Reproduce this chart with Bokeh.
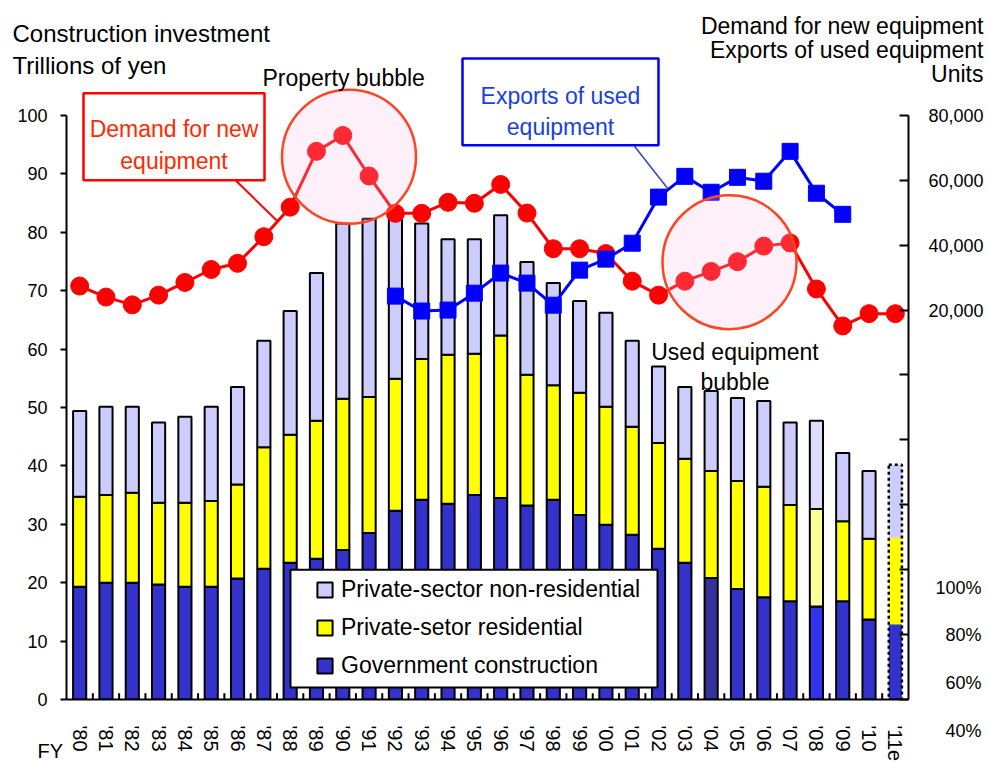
import math
from bokeh.plotting import figure
from bokeh.models import (ColumnDataSource, Range1d, FactorRange, LinearAxis, FixedTicker,
                          NumeralTickFormatter, BoxAnnotation, Legend, LegendItem,
                          CDSView, IndexFilter)
from bokeh.core.properties import value
from bokeh.embed import file_html
from bokeh.resources import INLINE

# ---------------- data ----------------
years = ["'80", "'81", "'82", "'83", "'84", "'85", "'86", "'87", "'88", "'89",
         "'90", "'91", "'92", "'93", "'94", "'95", "'96", "'97", "'98", "'99",
         "'00", "'01", "'02", "'03", "'04", "'05", "'06", "'07", "'08", "'09",
         "'10", "'11e"]
# Construction investment, trillions of yen
gov = [19.3, 20.0, 20.0, 19.7, 19.3, 19.3, 20.7, 22.4, 23.4, 24.1,
       25.6, 28.5, 32.3, 34.2, 33.5, 35.0, 34.5, 33.2, 34.2, 31.6,
       29.9, 28.2, 25.8, 23.4, 20.8, 18.9, 17.5, 16.8, 15.9, 16.8,
       13.7, 12.9]
res = [15.4, 15.0, 15.4, 14.0, 14.4, 14.7, 16.1, 20.8, 21.9, 23.6,
       25.9, 23.3, 22.6, 24.1, 25.5, 24.2, 27.8, 22.4, 19.6, 20.9,
       20.2, 18.5, 18.1, 17.8, 18.3, 18.5, 18.9, 16.5, 16.7, 13.7,
       13.8, 14.8]
nonres = [14.7, 15.1, 14.7, 13.7, 14.7, 16.1, 16.7, 18.2, 21.2, 25.3,
          30.0, 30.5, 28.0, 23.2, 19.8, 19.6, 20.6, 19.3, 17.5, 15.7,
          16.1, 14.7, 13.1, 12.3, 13.7, 14.2, 14.7, 14.1, 15.1, 11.7,
          11.6, 12.5]
# Units
demand = [27400, 24000, 21600, 24600, 28500, 32500, 34400, 42600, 51700, 68900,
          73800, 61300, 49800, 49800, 53200, 52900, 58700, 49900, 38900, 38900,
          37400, 28900, 24600, 28900, 31900, 34900, 39700, 40700, 26500, 15100,
          18900, 18900]
export_years = years[12:30]
exports = [24300, 19700, 20000, 25200, 31400, 28300, 21500, 32300, 35700, 40600,
           54800, 61200, 56300, 60900, 59700, 68900, 56000, 49500]

left_ticks = list(range(0, 101, 10))
right_ticks = list(range(-100000, 80001, 20000))
pct_labels = ["100%", "80%", "60%", "40%"]

# ---------------- styling ----------------
FONT = "Liberation Sans"
C_GOV, C_RES, C_NR = "#3333cc", "#ffff00", "#ccccff"
W, H = 988, 764
ML, MR, MT, MB = 66, 80, 0, 64
FW, FH = W - ML - MR, H - MT - MB
PX_PER_UNIT = 5.85
left_top = FH / PX_PER_UNIT
r_per_unit = (right_ticks[-1] - right_ticks[0]) / 100.0
right_top = right_ticks[0] + left_top * r_per_unit


def dx(px):  # canvas pixel -> x data (synthetic category coordinate)
    return (px - ML) / (FW / len(years))


def dy(py):  # canvas pixel -> left-axis data
    return (FH - (py - MT)) / PX_PER_UNIT


gov_c = [C_GOV] * len(years)
res_c = [C_RES] * len(years)
nr_c = [C_NR] * len(years)
gov_c[years.index("'04")] = "#333399"
gov_c[years.index("'08")] = "#3333ee"
res_c[years.index("'08")] = "#ffff99"
nr_c[years.index("'08")] = "#ddddff"

res_top = [g + r for g, r in zip(gov, res)]
total = [t + n for t, n in zip(res_top, nonres)]
src = ColumnDataSource(dict(year=years, zero=[0] * len(years), gov=gov, res_top=res_top,
                            total=total, gov_c=gov_c, res_c=res_c, nr_c=nr_c))

p = figure(width=W, height=H, x_range=FactorRange(factors=years),
           y_range=Range1d(0, left_top), output_backend="svg", toolbar_location=None,
           min_border_left=ML, min_border_right=MR, min_border_top=MT, min_border_bottom=MB)
p.extra_y_ranges = {"right": Range1d(right_ticks[0], right_top)}
p.xgrid.visible = False
p.ygrid.visible = False
p.outline_line_color = None

# x axis
xa = p.xaxis[0]
xa.axis_line_width = 2
xa.axis_line_color = "black"
xa.major_tick_line_color = None
xa.major_tick_in = 0
xa.major_tick_out = 0
xa.minor_tick_line_color = None
xa.major_label_orientation = -math.pi / 2
xa.major_label_standoff = 26
xa.major_label_text_font = FONT
xa.major_label_text_font_size = "20px"
xa.major_label_text_color = "black"
xa.major_label_overrides = {y: "" for i, y in enumerate(years) if i % 2 == 1 and i != len(years) - 1}

# left axis
ya = p.yaxis[0]
ya.ticker = FixedTicker(ticks=left_ticks)
ya.bounds = (0, 100)
ya.axis_line_width = 2
ya.major_tick_line_width = 2
ya.major_tick_out = 6
ya.major_tick_in = 0
ya.minor_tick_line_color = None
ya.major_label_standoff = 13
ya.major_label_text_font = FONT
ya.major_label_text_font_size = "18px"
ya.major_label_text_color = "black"

# right axis
ra = LinearAxis(y_range_name="right", ticker=FixedTicker(ticks=right_ticks),
                formatter=NumeralTickFormatter(format="0,0"))
ra.bounds = (right_ticks[0], right_ticks[-1])
ra.axis_line_width = 2
ra.major_tick_line_width = 2
ra.major_tick_in = 9
ra.major_tick_out = 0
ra.minor_tick_line_color = None
ra.major_label_standoff = 20
ra.major_label_text_font = FONT
ra.major_label_text_font_size = "18px"
ra.major_label_text_color = "black"
ra.major_label_overrides = {t: "" for t in right_ticks if t <= 0}
p.add_layout(ra, "right")

# bars
solid = CDSView(filter=IndexFilter(list(range(len(years) - 1))))
est = CDSView(filter=IndexFilter([len(years) - 1]))
BW = 0.5
r_gov = p.vbar(x="year", width=BW, bottom="zero", top="gov", fill_color="gov_c",
               line_color="black", line_width=2, source=src, view=solid)
r_res = p.vbar(x="year", width=BW, bottom="gov", top="res_top", fill_color="res_c",
               line_color="black", line_width=2, source=src, view=solid)
r_nr = p.vbar(x="year", width=BW, bottom="res_top", top="total", fill_color="nr_c",
              line_color="black", line_width=2, source=src, view=solid)
p.vbar(x="year", width=BW, bottom="zero", top="gov", fill_color="gov_c", line_color=None,
       source=src, view=est)
p.vbar(x="year", width=BW, bottom="gov", top="res_top", fill_color="res_c", line_color=None,
       source=src, view=est)
p.vbar(x="year", width=BW, bottom="res_top", top="total", fill_color="nr_c", line_color=None,
       source=src, view=est)
p.vbar(x="year", width=BW, bottom="zero", top="total", fill_color=None, line_color="black",
       line_width=2.5, line_dash="3 3", source=src, view=est)

# small category-boundary ticks on the x axis
bounds_x = list(range(1, len(years)))
p.segment(x0=bounds_x, y0=[0] * len(bounds_x), x1=bounds_x, y1=[1.05] * len(bounds_x),
          line_color="black", line_width=2)

# lines
p.line(x=years, y=demand, y_range_name="right", line_color="#ff0000", line_width=3)
p.scatter(x=years, y=demand, y_range_name="right", marker="circle", size=18,
          fill_color="#ff0000", line_color="#ff0000")
p.line(x=export_years, y=exports, y_range_name="right", line_color="#0000ff", line_width=3)
p.scatter(x=export_years, y=exports, y_range_name="right", marker="square", size=16,
          fill_color="#0000ff", line_color="#0000ff")

# bubble circles
p.scatter(x=[dx(348.5), dx(729)], y=[dy(156.5), dy(262)], marker="circle", size=134,
          fill_color="#ffbbe8", fill_alpha=0.22, line_color="#ff4422", line_width=2.5)

# leader lines
p.segment(x0=[dx(235)], y0=[dy(180)], x1=[dx(277)], y1=[dy(221)], line_color="#ff0000",
          line_width=2)
p.segment(x0=[dx(634)], y0=[dy(146)], x1=[dx(667)], y1=[dy(188)], line_color="#3344bb",
          line_width=1.5)

# callout boxes
p.add_layout(BoxAnnotation(left=dx(83), right=dx(264), top=dy(93), bottom=dy(180),
                           fill_color="white", fill_alpha=1, line_color="#ff0000",
                           line_alpha=1, line_width=2.5))
p.add_layout(BoxAnnotation(left=dx(462), right=dx(658), top=dy(58), bottom=dy(145),
                           fill_color="white", fill_alpha=1, line_color="#0000ff",
                           line_alpha=1, line_width=2.5))
# legend background box
p.add_layout(BoxAnnotation(left=dx(290), right=dx(657), top=dy(570), bottom=dy(688),
                           fill_color="white", fill_alpha=1, line_color="black",
                           line_alpha=1, line_width=2))

legend = Legend(items=[
    LegendItem(label="Private-sector non-residential", renderers=[r_nr], index=0),
    LegendItem(label="Private-setor residential", renderers=[r_res], index=0),
    LegendItem(label="Government construction", renderers=[r_gov], index=0),
], location=(315 - ML, 20), padding=0, margin=0, spacing=11, glyph_width=19,
    glyph_height=19, label_height=24, label_standoff=7, label_text_font=FONT,
    label_text_font_size="23px", label_text_color="black", background_fill_alpha=0,
    border_line_color=None)
p.add_layout(legend, "center")


def lab(text, px, py, size="23px", color="black", align="left"):
    p.text(x=[dx(px)], y=[dy(py)], text=[text], text_font=value(FONT),
           text_font_size=value(size), text_color=color, text_align=align,
           text_baseline="alphabetic", level="overlay")


lab("Construction investment", 12, 33, "24px")
lab("Trillions of yen", 12, 65, "24px")
lab("Demand for new equipment", 983, 26, align="right")
lab("Exports of used equipment", 983, 50, align="right")
lab("Units", 983, 74, align="right")
lab("Property bubble", 262, 78)
lab("Demand for new", 173.5, 129, color="#ff2a00", align="center")
lab("equipment", 173.5, 161, color="#ff2a00", align="center")
lab("Exports of used", 560, 96, color="#1a3fe0", align="center")
lab("equipment", 560, 127, color="#1a3fe0", align="center")
lab("Used equipment", 734.5, 352, align="center")
lab("bubble", 734.5, 382, align="center")
for t, yy in zip(pct_labels, [588, 635, 683, 732]):
    lab(t, 981, yy, "18px", align="right")
lab("FY", 37, 752, "20px")

open("out.html", "w").write(file_html(p, INLINE))
